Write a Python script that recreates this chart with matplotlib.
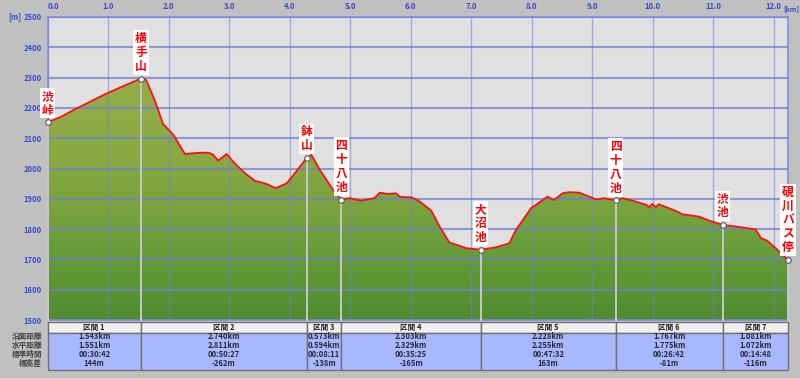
import numpy as np
import matplotlib
matplotlib.use("Agg")
import matplotlib.pyplot as plt
from matplotlib.colors import LinearSegmentedColormap
from matplotlib.patches import Polygon, Rectangle

plt.rcParams["font.family"] = ["Noto Sans CJK JP", "DejaVu Sans"]

# elevation profile (km along path, m)
DIST = [0.00, 0.21, 0.43, 0.98, 1.543, 1.63, 1.77, 1.91, 2.08, 2.27, 2.52, 2.67,
        2.74, 2.82, 2.96, 3.07, 3.23, 3.42, 3.62, 3.77, 3.95, 4.11, 4.283, 4.36,
        4.50, 4.72, 4.856, 4.99, 5.18, 5.40, 5.49, 5.62, 5.76, 5.82, 5.93, 6.01,
        6.15, 6.34, 6.48, 6.64, 6.92, 7.159, 7.41, 7.63, 7.74, 7.99, 8.26, 8.37,
        8.51, 8.62, 8.79, 9.06, 9.20, 9.387, 9.50, 9.67, 9.89, 9.94, 9.99, 10.05,
        10.10, 10.20, 10.38, 10.49, 10.77, 10.93, 11.154, 11.32, 11.70, 11.79,
        11.89, 12.03, 12.235]
ELEV = [2153, 2169, 2193, 2248, 2297, 2292, 2226, 2147, 2111, 2048, 2052, 2052,
        2045, 2026, 2048, 2022, 1990, 1960, 1949, 1935, 1951, 1990, 2035, 2045,
        1995, 1929, 1897, 1902, 1894, 1902, 1920, 1916, 1918, 1907, 1905, 1905,
        1891, 1861, 1808, 1756, 1737, 1732, 1740, 1753, 1797, 1869, 1907, 1896,
        1918, 1922, 1920, 1898, 1902, 1895, 1902, 1894, 1880, 1872, 1883, 1873,
        1882, 1874, 1860, 1849, 1841, 1828, 1814, 1810, 1799, 1770,
        1762, 1737, 1698]

WP_NAMES = ["渋峠", "横手山", "鉢山", "四十八池", "大沼池", "四十八池", "渋池", "硯川バス停"]
WP_DIST = [0.0, 1.543, 4.283, 4.856, 7.159, 9.387, 11.154, 12.235]
WP_ELEV = [2153, 2297, 2035, 1897, 1732, 1895, 1814, 1698]

SECTIONS = ["区間 1", "区間 2", "区間 3", "区間 4", "区間 5", "区間 6", "区間 7"]
SLOPE_DIST = ["1.543km", "2.740km", "0.573km", "2.303km", "2.228km", "1.767km", "1.081km"]
FLAT_DIST = ["1.551km", "2.811km", "0.594km", "2.329km", "2.255km", "1.775km", "1.072km"]
TIMES = ["00:30:42", "00:50:27", "00:08:11", "00:35:25", "00:47:32", "00:26:42", "00:14:48"]
DIFFS = ["144m", "-262m", "-138m", "-165m", "163m", "-81m", "-116m"]
ROW_LABELS = ["沿面距離", "水平距離", "標準時間", "標高差"]

X_TICKS = list(range(13))
Y_TICKS = list(range(1500, 2600, 100))

W, H = 800, 378
BG, PLOTBG = "#c0c0c0", "#e0e0e0"
BLUE, GRIDC = "#3a4ccc", "#6f7fd6"
XMAX = WP_DIST[-1]


def fx(px):
    return px / W


def fy(py):
    return 1 - py / H


fig = plt.figure(figsize=(8, 3.78), dpi=100, facecolor=BG)
L, R, T, B = 47.5, 788, 17, 320
ax = fig.add_axes([fx(L), fy(B), fx(R - L), (B - T) / H])
ax.set_facecolor(PLOTBG)

# gradient fill under the profile
cmap = LinearSegmentedColormap.from_list("g", ["#4f8c2f", "#6c9f3a", "#8aa942", "#93ad48"])
grad = np.linspace(0, 1, 256).reshape(-1, 1)
im = ax.imshow(grad, extent=[0, XMAX, 1500, 2300], origin="lower", aspect="auto",
               cmap=cmap, zorder=1)
verts = list(zip(DIST, ELEV)) + [(XMAX, 1500), (0, 1500)]
poly = Polygon(verts, closed=True, facecolor="none", edgecolor="none")
ax.add_patch(poly)
im.set_clip_path(poly)

ax.plot(DIST, ELEV, color="#ff1010", lw=1.3, zorder=4)

ax.set_xlim(0, XMAX)
ax.set_ylim(1500, 2500)
ax.set_xticks(X_TICKS)
ax.set_yticks(Y_TICKS)
ax.set_axisbelow(False)
ax.grid(axis="y", color=GRIDC, lw=1.5, alpha=0.75)
ax.grid(axis="x", color=GRIDC, lw=1.0, alpha=0.55)
ax.xaxis.tick_top()
ax.tick_params(length=0, labelsize=5.5, labelcolor=BLUE, pad=4)
ax.set_xticklabels([f"{v:.1f}" for v in X_TICKS], fontweight="bold")
ax.get_xticklabels()[0].set_horizontalalignment("left")
ax.set_yticklabels([str(v) for v in Y_TICKS], fontweight="bold")
for s in ax.spines.values():
    s.set_color("#8090e0")
    s.set_linewidth(1.2)

fig.text(fx(783), fy(9), "[km]", fontsize=5, color=BLUE, fontweight="bold",
         ha="left", va="center")
fig.text(fx(8), fy(17), "[m]", fontsize=5.5, color=BLUE, fontweight="bold",
         ha="left", va="center")

# waypoints: drop line, marker, vertical label
for name, d, e in zip(WP_NAMES, WP_DIST, WP_ELEV):
    ax.plot([d, d], [1500, e], color="#c8c8c8", lw=1.4, zorder=3, clip_on=False)
    ax.plot(d, e, "o", ms=4, mfc="white", mec="#555555", mew=0.8, zorder=6,
            clip_on=False)
    ax.annotate("\n".join(name), (d, e), xytext=(0, 4), textcoords="offset points",
                ha="center", va="bottom", fontsize=8.5, fontweight="bold",
                color="#ff0000", linespacing=1.1, zorder=7, annotation_clip=False,
                bbox=dict(boxstyle="square,pad=0.15", fc="white", ec="none"))

# section table
tax = fig.add_axes([fx(L), fy(371), fx(R - L), (371 - 322) / H])
tax.set_xlim(0, XMAX)
tax.set_ylim(371, 322)
tax.axis("off")
for i, sec in enumerate(SECTIONS):
    x0, x1 = WP_DIST[i], WP_DIST[i + 1]
    tax.add_patch(Rectangle((x0, 322), x1 - x0, 11, fc="#f0f0f0", ec="#707070",
                            lw=1.0, clip_on=False))
    tax.add_patch(Rectangle((x0, 333), x1 - x0, 37.5, fc="#a8b8ff", ec="#707070",
                            lw=1.0, clip_on=False))
    xc = (x0 + x1) / 2
    tax.text(xc, 327.5, sec, ha="center", va="center", fontsize=5.5,
             fontweight="bold", color="#222222")
    for yy, val in zip([337, 345.5, 354.5, 363.5],
                       [SLOPE_DIST[i], FLAT_DIST[i], TIMES[i], DIFFS[i]]):
        tax.text(xc, yy, val, ha="center", va="center", fontsize=5.5,
                 fontweight="bold", color="#2a2a3a")

for yy, lab in zip([337, 345.5, 354.5, 363.5], ROW_LABELS):
    fig.text(fx(42), fy(yy), lab, ha="right", va="center", fontsize=5.5,
             fontweight="bold", color="#444444")

fig.savefig("out.png", dpi=100, facecolor=BG)
